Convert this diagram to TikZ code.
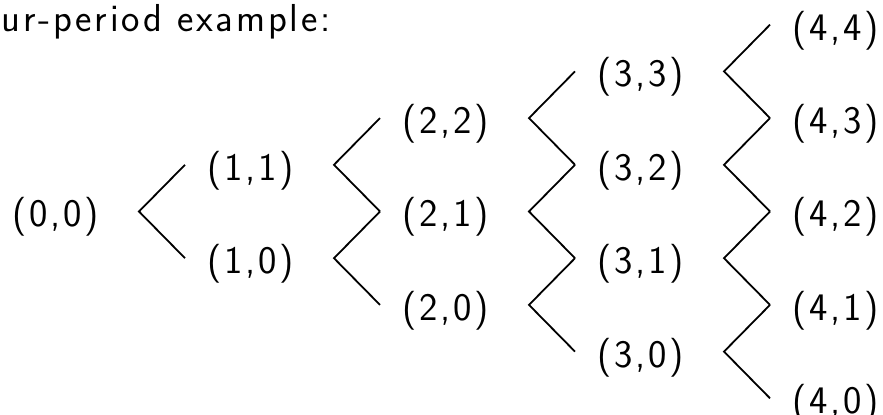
\documentclass[tikz,border=0pt]{standalone}
\usepackage{fontspec}
\setsansfont{Latin Modern Sans}[LetterSpace=7]
\usepackage{tikz}
\usetikzlibrary{calc}
\tikzset{
  state/.style={font=\sffamily\fontsize{19.5}{23}\selectfont, inner sep=0pt,
    text height=16.5pt, text depth=1pt},
  branch/.style={line width=0.9pt, line join=miter}
}

\begin{document}
\begin{tikzpicture}[x=0.5pt, y=-0.5pt]

  % page frame (pixels of the slide)
  \useasboundingbox (0,0) rectangle (883,415);

  % spacing of the lattice
  \def\colstep{195}
  \def\rowstep{46.7}

  % heading
  \node[state, anchor=base west, text height=, text depth=] (title) at (1,32) {ur-period example:};

  % states (period, ups)
  \foreach \i in {0,...,4}{
    \foreach \j in {0,...,\i}{
      \node[state] (n\i\j) at ({56+\colstep*\i}, {211.5-\rowstep*(2*\j-\i)}) {(\i,\j)};
    }
  }

  % branches to the next period
  \foreach \i in {0,...,3}{
    \pgfmathtruncatemacro{\k}{\i+1}
    \foreach \j in {0,...,\i}{
      \pgfmathtruncatemacro{\u}{\j+1}
      \draw[branch] ([xshift=-33pt]n\k\u.center) -- ([xshift=41.5pt]n\i\j.center)
        -- ([xshift=-33pt]n\k\j.center);
    }
  }

\end{tikzpicture}
\end{document}
